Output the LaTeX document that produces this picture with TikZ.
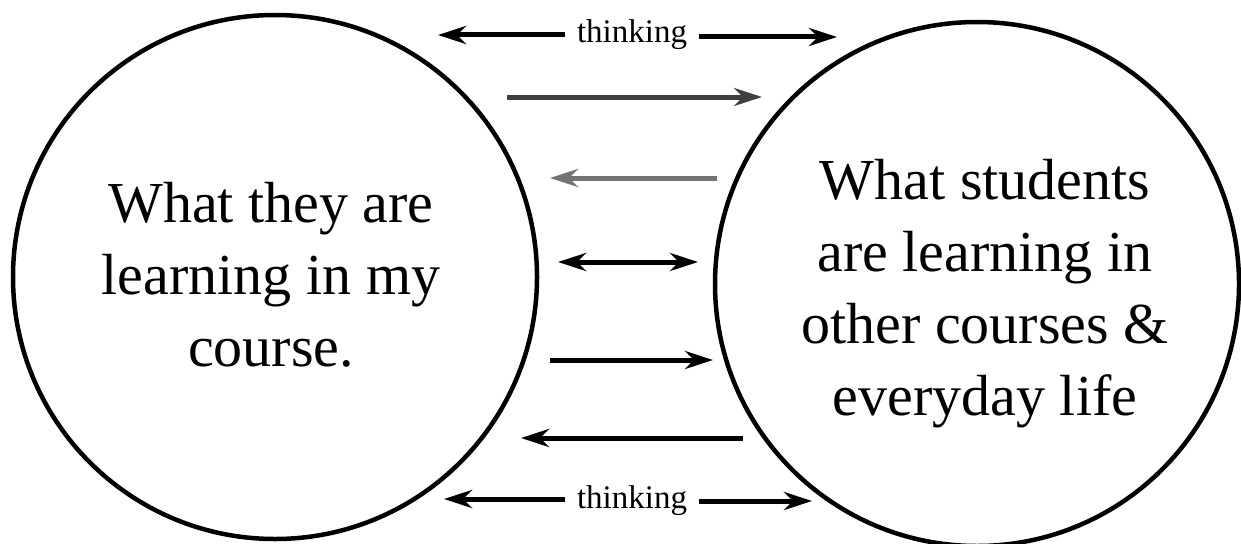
\documentclass[tikz,border=0pt]{standalone}
\usepackage{fontspec}
\setmainfont{Liberation Serif}
\newfontfamily\picserif{Liberation Serif}
\usetikzlibrary{arrows.meta}
\begin{document}
\begin{tikzpicture}[x=1pt,y=-1pt,
  ring/.style={circle, draw, line width=4.5pt, minimum size=524pt, inner sep=0pt},
  bigtext/.style={align=center, font=\picserif\fontsize{58}{72}\selectfont, inner sep=0pt},
  thinktext/.style={font=\picserif\fontsize{33}{36}\selectfont, inner xsep=12pt, inner ysep=0pt},
  tip/.style={Stealth[length=28pt, width=18pt, inset=9pt]},
  arr/.style={line width=5pt, -{Stealth[length=28pt, width=18pt, inset=9pt]}},
  darr/.style={line width=5pt, {Stealth[length=28pt, width=18pt, inset=9pt]}-{Stealth[length=28pt, width=18pt, inset=9pt]}}
]
\useasboundingbox (0,0) rectangle (1241,543);
% circles
\node[ring] (L) at (275,277) {};
\node[ring] (R) at (977,284) {};
\node[bigtext] (Ltext) at (271,275) {What they are\\learning in my\\course.};
\node[bigtext] (Rtext) at (985,294) {What students\\are learning in\\other courses \&\\everyday life};
% thinking labels
\node[thinktext, anchor=base] (T1) at (632,42) {thinking};
\node[thinktext, anchor=base] (T2) at (632,508) {thinking};
\coordinate (t1l) at (438,35);
\coordinate (t1r) at (837,37);
\coordinate (t2l) at (444,499);
\coordinate (t2r) at (812,501);
\draw[arr] (T1.west |- t1l) -- (t1l);
\draw[arr] (T1.east |- t1r) -- (t1r);
\draw[arr] (T2.west |- t2l) -- (t2l);
\draw[arr] (T2.east |- t2r) -- (t2r);
% middle arrows
\coordinate (a2s) at (507,97);  \coordinate (a2e) at (762,97);
\coordinate (a3s) at (717,178); \coordinate (a3e) at (550,178);
\coordinate (a4s) at (558,262); \coordinate (a4e) at (698,262);
\coordinate (a5s) at (550,360); \coordinate (a5e) at (713,360);
\coordinate (a6s) at (743,438); \coordinate (a6e) at (521,438);
\draw[arr, draw=black!75, fill=black!75] (a2s) -- (a2e);
\draw[arr, draw=black!55, fill=black!55] (a3s) -- (a3e);
\draw[darr] (a4s) -- (a4e);
\draw[arr] (a5s) -- (a5e);
\draw[arr] (a6s) -- (a6e);
\end{tikzpicture}
\end{document}
